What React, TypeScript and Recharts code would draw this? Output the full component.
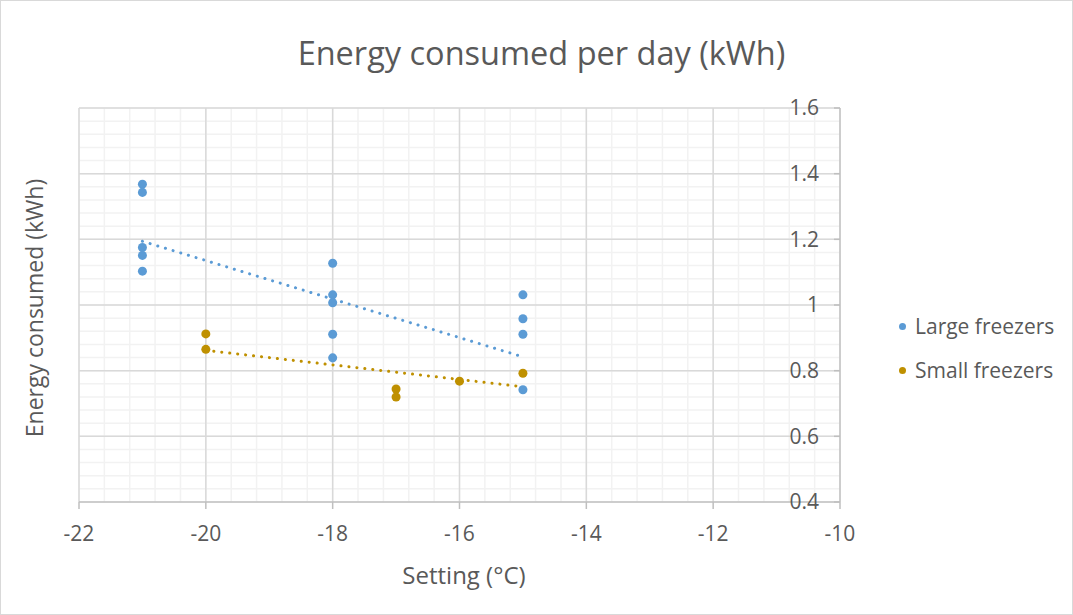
import React from 'react';
import { ScatterChart, Scatter, XAxis, YAxis, ZAxis, ReferenceLine, Legend } from 'recharts';

const W = 1073;
const H = 615;
const FONT = '"Open Sans", sans-serif';
const TEXT = '#595959';

const xTicks = [-22, -20, -18, -16, -14, -12, -10];
const yTicks = [0.4, 0.6, 0.8, 1.0, 1.2, 1.4, 1.6];
const xMinor = Array.from({ length: 31 }, (_, i) => -22 + i * 0.4);
const yMinor = Array.from({ length: 31 }, (_, i) => 0.4 + i * 0.04);

const largeX = [-21, -21, -21, -21, -21, -18, -18, -18, -18, -18, -15, -15, -15, -15];
const largeY = [1.368, 1.343, 1.175, 1.151, 1.103, 1.127, 1.031, 1.007, 0.911, 0.839, 1.031, 0.958, 0.911, 0.742];
const smallX = [-20, -20, -17, -17, -16, -15];
const smallY = [0.912, 0.865, 0.744, 0.72, 0.768, 0.792];

const largeTrendX = [-21, -15];
const largeTrendY = [1.194, 0.842];
const smallTrendX = [-20, -15];
const smallTrendY = [0.862, 0.751];

const seriesNames = ['Large freezers', 'Small freezers'];
const seriesColors = ['#5b9bd5', '#bf9000'];

const zip = (xs: number[], ys: number[]) => xs.map((x, i) => ({ x, y: ys[i] }));
const largeData = zip(largeX, largeY);
const smallData = zip(smallX, smallY);
const largeTrend = zip(largeTrendX, largeTrendY);
const smallTrend = zip(smallTrendX, smallTrendY);

const fmtY = (v: number) => String(Number(v.toFixed(1)));

const LegendContent = () => (
  <div style={{ fontFamily: FONT, fontSize: 21, color: TEXT, textAlign: 'left' }}>
    {seriesNames.map((n, i) => (
      <div key={n} style={{ display: 'flex', alignItems: 'center', height: 44 }}>
        <span
          style={{
            display: 'inline-block',
            width: 7,
            height: 7,
            borderRadius: '50%',
            background: seriesColors[i],
            marginRight: 9,
          }}
        />
        <span>{n}</span>
      </div>
    ))}
  </div>
);

const trendLine = (color: string) => ({
  stroke: color,
  strokeWidth: 3,
  strokeDasharray: '0.1 7.9',
  strokeLinecap: 'round' as const,
});

export default function App() {
  return (
    <div
      style={{
        position: 'fixed',
        left: 0,
        top: 0,
        width: W,
        height: H,
        background: '#fff',
        boxSizing: 'border-box',
        border: '1px solid #d9d9d9',
        overflow: 'hidden',
      }}
    >
      <div
        style={{
          position: 'absolute',
          left: 0,
          width: W,
          top: 36,
          textAlign: 'center',
          fontFamily: FONT,
          fontSize: 32.5,
          lineHeight: 1,
          color: TEXT,
          paddingLeft: 8,
          boxSizing: 'border-box',
        }}
      >
        Energy consumed per day (kWh)
      </div>
      <div
        style={{
          position: 'absolute',
          left: 463 - 200,
          width: 400,
          top: 562,
          textAlign: 'center',
          fontFamily: FONT,
          fontSize: 24,
          lineHeight: 1,
          color: TEXT,
        }}
      >
        Setting (°C)
      </div>
      <div
        style={{
          position: 'absolute',
          left: 33 - 200,
          top: 307 - 12,
          width: 400,
          textAlign: 'center',
          fontFamily: FONT,
          fontSize: 23,
          lineHeight: '24px',
          color: TEXT,
          transform: 'rotate(-90deg)',
        }}
      >
        Energy consumed (kWh)
      </div>
      <div style={{ position: 'absolute', left: 0, top: 0 }}>
        <ScatterChart width={W} height={H} margin={{ top: 107, left: 78, right: 234, bottom: 74 }}>
          <XAxis
            type="number"
            dataKey="x"
            domain={[-22, -10]}
            ticks={xTicks}
            interval={0}
            allowDataOverflow
            height={40}
            tickSize={7}
            tickMargin={17}
            axisLine={{ stroke: '#bfbfbf', strokeWidth: 1.5 }}
            tickLine={{ stroke: '#bfbfbf', strokeWidth: 1.5 }}
            tick={{ fill: TEXT, fontSize: 21, fontFamily: FONT }}
          />
          <YAxis
            type="number"
            dataKey="y"
            orientation="right"
            mirror
            width={1}
            domain={[0.4, 1.6]}
            ticks={yTicks}
            interval={0}
            allowDataOverflow
            tickSize={6}
            tickMargin={15}
            tickFormatter={fmtY}
            axisLine={{ stroke: '#bfbfbf', strokeWidth: 1.5 }}
            tickLine={{ stroke: '#bfbfbf', strokeWidth: 1.5 }}
            tick={{ fill: TEXT, fontSize: 21, fontFamily: FONT }}
          />
          <ZAxis type="number" range={[46, 46]} />
          {xMinor.map((v) => (
            <ReferenceLine key={'xm' + v} x={v} stroke="#f2f2f2" strokeWidth={1.5} />
          ))}
          {yMinor.map((v) => (
            <ReferenceLine key={'ym' + v} y={v} stroke="#f2f2f2" strokeWidth={1.5} />
          ))}
          {xTicks.slice(0, -1).map((v) => (
            <ReferenceLine key={'xM' + v} x={v} stroke="#d9d9d9" strokeWidth={1.5} />
          ))}
          {yTicks.slice(1).map((v) => (
            <ReferenceLine key={'yM' + v} y={v} stroke="#d9d9d9" strokeWidth={1.5} />
          ))}
          <Scatter
            name="Large trend"
            data={largeTrend}
            line={trendLine(seriesColors[0])}
            shape={() => <g />}
            legendType="none"
            isAnimationActive={false}
          />
          <Scatter
            name="Small trend"
            data={smallTrend}
            line={trendLine(seriesColors[1])}
            shape={() => <g />}
            legendType="none"
            isAnimationActive={false}
          />
          <Scatter name={seriesNames[0]} data={largeData} fill={seriesColors[0]} isAnimationActive={false} />
          <Scatter name={seriesNames[1]} data={smallData} fill={seriesColors[1]} isAnimationActive={false} />
          <Legend
            layout="horizontal"
            verticalAlign="middle"
            align="center"
            wrapperStyle={{ position: 'absolute', left: 898, top: 303, width: 170, height: 88 }}
            content={() => <LegendContent />}
          />
        </ScatterChart>
      </div>
    </div>
  );
}
